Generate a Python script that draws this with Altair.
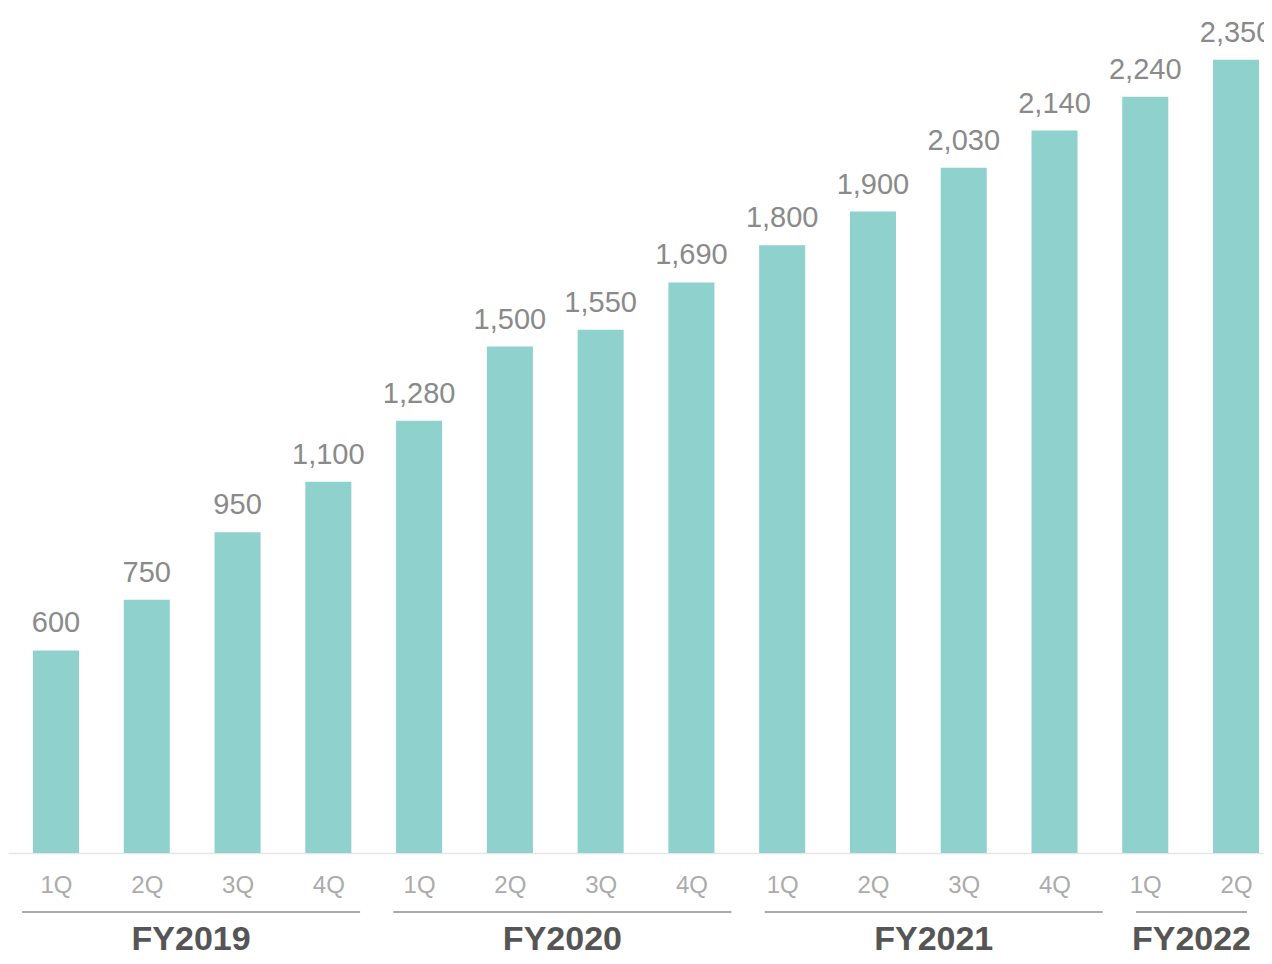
import json
import altair as alt
import pandas as pd

# ---- data ----
quarters = ["1Q", "2Q", "3Q", "4Q", "1Q", "2Q", "3Q", "4Q", "1Q", "2Q", "3Q", "4Q", "1Q", "2Q"]
values = [600, 750, 950, 1100, 1280, 1500, 1550, 1690, 1800, 1900, 2030, 2140, 2240, 2350]
fiscal_years = ["FY2019", "FY2020", "FY2021", "FY2022"]
fy_first_q = [0, 4, 8, 12]
fy_last_q = [3, 7, 11, 13]

W = 1256
H = 844

bars_df = pd.DataFrame({
    "idx": list(range(len(values))),
    "q": quarters,
    "v": values,
    "label": [f"{v:,}" for v in values],
})
groups_df = pd.DataFrame({"fy": fiscal_years, "first": fy_first_q, "last": fy_last_q})

xs = alt.Scale(domain=[-0.529, 13.308], nice=False, zero=False)
ys = alt.Scale(domain=[0, 2500], nice=False, zero=True)

label_expr = json.dumps(quarters) + "[datum.value]"

bars = alt.Chart(bars_df).transform_calculate(
    x0="datum.idx - 0.2535", x1="datum.idx + 0.2535"
).mark_bar(color="#8fd1cc").encode(
    x=alt.X("x0:Q", scale=xs, axis=alt.Axis(
        values=list(range(len(values))), labelExpr=label_expr, title=None,
        grid=False, ticks=False, domain=True, domainColor="#e6e6e6", domainWidth=1.5,
        labelFontSize=24, labelColor="#ababab", labelFont="Liberation Sans",
        labelPadding=20, labelFlush=False, labelOverlap=False)),
    x2="x1:Q",
    y=alt.Y("v:Q", scale=ys, axis=None),
    y2=alt.datum(0),
)

value_labels = alt.Chart(bars_df).mark_text(
    baseline="alphabetic", dy=-18, fontSize=29, color="#8a8a8a", font="Liberation Sans"
).encode(
    x=alt.X("idx:Q", scale=xs),
    y=alt.Y("v:Q", scale=ys),
    text="label:N",
)

groups = alt.Chart(groups_df).transform_calculate(
    ls="datum.first * 1.0227 - 0.374",
).transform_calculate(
    le="min(datum.ls + 3.724, 13.12)",
).transform_calculate(mid="(datum.ls + datum.le) / 2")

group_rules = groups.mark_rule(color="#8c8c8c", strokeWidth=1.6).encode(
    x=alt.X("ls:Q", scale=xs),
    x2="le:Q",
    y=alt.value(H + 59),
)

fy_labels = groups.mark_text(
    baseline="alphabetic", fontSize=34, fontWeight="bold", color="#555555", font="Liberation Sans"
).encode(
    x=alt.X("mid:Q", scale=xs),
    y=alt.value(H + 97),
    text="fy:N",
)

chart = alt.layer(bars, value_labels, group_rules, fy_labels).properties(
    width=W, height=H,
    autosize=alt.AutoSizeParams(type="none"),
    padding={"left": 0, "top": 1, "right": 0, "bottom": 103},
    background="white",
).configure_view(stroke=None)

chart.save("out.html", embed_options={"renderer": "svg", "actions": False})
